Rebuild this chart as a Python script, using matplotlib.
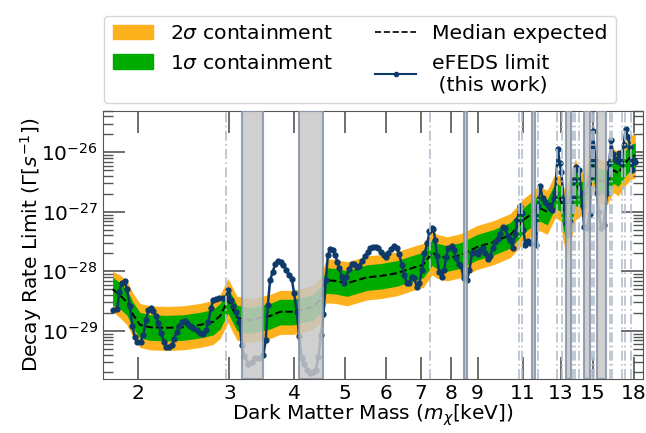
import numpy as np
import matplotlib.pyplot as plt
from matplotlib.patches import Patch
from matplotlib.lines import Line2D
from matplotlib.ticker import NullLocator

# eFEDS limit (mass in keV, log10 of decay rate limit)
m_lim = [1.795, 1.827, 1.843, 1.863, 1.891, 1.905, 1.933, 1.953, 1.976, 1.998,
         2.027, 2.050, 2.075, 2.096, 2.121, 2.143, 2.169, 2.191, 2.217, 2.247,
         2.267, 2.297, 2.325, 2.349, 2.377, 2.405, 2.437, 2.466, 2.491, 2.521,
         2.558, 2.597, 2.635, 2.667, 2.706, 2.734, 2.767, 2.795, 2.829, 2.871,
         2.914, 2.957, 2.987, 3.019, 3.054, 3.091, 3.137, 3.170, 3.203, 3.264,
         3.314, 3.362, 3.427, 3.488, 3.525, 3.557, 3.593, 3.636, 3.674, 3.718,
         3.768, 3.811, 3.857, 3.909, 3.956, 3.996, 4.044, 4.086, 4.135, 4.177,
         4.228, 4.290, 4.353, 4.399, 4.450, 4.498, 4.550, 4.599, 4.640, 4.687,
         4.743, 4.792, 4.841, 4.884, 4.936, 4.987, 5.031, 5.099, 5.160, 5.213,
         5.275, 5.336, 5.393, 5.473, 5.539, 5.595, 5.662, 5.738, 5.805, 5.875,
         5.953, 6.006, 6.068, 6.141, 6.223, 6.298, 6.362, 6.439, 6.505, 6.583,
         6.659, 6.730, 6.799, 6.881, 6.960, 7.034, 7.116, 7.211, 7.275, 7.353,
         7.405, 7.461, 7.518, 7.595, 7.686, 7.764, 7.834, 7.914, 8.034, 8.117,
         8.189, 8.273, 8.372, 8.458, 8.586, 8.685, 8.779, 8.908, 9.015, 9.107,
         9.217, 9.311, 9.407, 9.519, 9.617, 9.733, 9.849, 9.950, 10.07, 10.17,
         10.30, 10.40, 10.51, 10.63, 10.74, 10.84, 10.95, 11.03, 11.12, 11.25,
         11.36, 11.67, 11.74, 11.88, 12.00, 12.14, 12.27, 12.38, 12.51, 12.60,
         12.69, 12.85, 12.94, 13.04, 13.17, 13.33, 13.43, 13.57, 13.71, 13.81,
         13.93, 14.12, 14.22, 14.33, 14.43, 14.61, 14.78, 14.87, 15.00, 15.16,
         15.27, 15.38, 15.56, 15.72, 15.96, 16.13, 16.25, 16.39, 16.56, 16.69,
         16.86, 17.01, 17.18, 17.33, 17.52, 17.70, 17.83, 17.96, 18.09]
log_lim = [-28.65, -28.64, -28.34, -28.20, -28.16, -28.29, -28.59, -28.92, -29.11, -29.19,
           -29.18, -29.07, -28.82, -28.65, -28.62, -28.66, -28.75, -28.87, -29.04, -29.18,
           -29.28, -29.28, -29.24, -29.13, -29.02, -28.92, -28.86, -28.83, -28.87, -28.92,
           -28.95, -28.99, -29.04, -29.05, -28.99, -28.85, -28.61, -28.49, -28.47, -28.45,
           -28.45, -28.44, -28.31, -28.48, -28.58, -28.68, -28.85, -29.24, -29.42, -29.55,
           -29.52, -29.46, -29.45, -29.41, -29.15, -28.57, -28.15, -28.01, -27.88, -27.82,
           -27.84, -27.89, -27.97, -28.06, -28.13, -28.37, -28.68, -29.09, -29.46, -29.55,
           -29.66, -29.71, -29.70, -29.66, -29.44, -29.07, -28.71, -28.15, -27.73, -27.63,
           -27.64, -27.73, -27.84, -27.95, -28.09, -28.20, -28.09, -27.96, -27.87, -27.87,
           -27.92, -27.91, -27.82, -27.75, -27.67, -27.61, -27.59, -27.59, -27.61, -27.67,
           -27.73, -27.76, -27.70, -27.62, -27.57, -27.61, -27.71, -27.89, -28.06, -28.20,
           -28.19, -28.09, -28.12, -28.26, -28.20, -27.98, -27.70, -27.52, -27.33, -27.28,
           -27.29, -27.47, -27.75, -28.01, -28.10, -27.98, -27.76, -27.60, -27.57, -27.64,
           -27.78, -27.88, -27.91, -28.12, -28.15, -27.98, -27.70, -27.67, -27.71, -27.64,
           -27.60, -27.70, -27.80, -27.75, -27.61, -27.50, -27.45, -27.37, -27.25, -27.28,
           -27.41, -27.47, -27.60, -27.37, -27.14, -26.91, -27.02, -27.31, -27.56, -27.49,
           -27.53, -27.56, -26.91, -26.57, -26.77, -26.83, -26.89, -26.94, -26.97, -26.77,
           -26.69, -25.95, -26.18, -26.33, -26.80, -27.19, -27.37, -27.17, -26.75, -26.47,
           -26.24, -26.29, -26.69, -26.91, -27.25, -27.28, -27.03, -26.41, -25.64, -26.13,
           -26.69, -27.00, -27.28, -27.22, -26.69, -26.18, -25.80, -26.02, -26.12, -26.14,
           -26.01, -26.18, -25.88, -25.61, -25.74, -25.91, -26.29, -26.13, -26.16]

# expected sensitivity: median and containment bands (log10)
m_exp = [1.79, 1.849, 1.907, 1.959, 2.02, 2.112, 2.277, 2.444, 2.635, 2.792,
         2.88, 2.983, 3.05, 3.105, 3.289, 3.593, 3.756, 3.979, 4.347, 4.484,
         4.605, 4.792, 5.053, 5.282, 5.521, 5.849, 6.306, 6.769, 7.076, 7.364,
         7.528, 7.869, 8.336, 8.988, 9.647, 10.40, 10.73, 11.02, 11.47, 11.72,
         11.88, 12.25, 12.69, 12.98, 13.15, 13.39, 13.87, 14.18, 14.50, 14.96,
         15.29, 15.98, 16.42, 16.78, 17.31, 17.70, 18.09]
med = [-28.30, -28.40, -28.52, -28.73, -28.90, -28.94, -28.95, -28.94, -28.90, -28.85,
       -28.75, -28.48, -28.65, -28.78, -28.82, -28.75, -28.68, -28.68, -28.60, -28.48,
       -28.15, -28.16, -28.20, -28.15, -28.10, -28.08, -28.03, -27.94, -27.89, -27.68,
       -27.74, -27.78, -27.73, -27.59, -27.51, -27.39, -27.26, -27.14, -27.02, -26.95,
       -26.94, -27.00, -26.72, -26.77, -26.97, -26.89, -26.47, -26.69, -26.72, -26.21,
       -26.47, -26.50, -26.30, -26.35, -26.18, -26.08, -26.05]
up1 = [-28.10, -28.19, -28.31, -28.52, -28.69, -28.73, -28.74, -28.73, -28.69, -28.64,
       -28.54, -28.27, -28.44, -28.57, -28.61, -28.54, -28.47, -28.47, -28.39, -28.27,
       -27.94, -27.95, -27.99, -27.94, -27.89, -27.87, -27.82, -27.73, -27.68, -27.47,
       -27.53, -27.57, -27.52, -27.38, -27.30, -27.18, -27.05, -26.93, -26.81, -26.74,
       -26.73, -26.79, -26.51, -26.56, -26.76, -26.68, -26.26, -26.48, -26.51, -26.00,
       -26.26, -26.29, -26.09, -26.14, -25.97, -25.87, -25.84]
lo1 = [-28.57, -28.63, -28.74, -28.95, -29.12, -29.16, -29.17, -29.16, -29.12, -29.07,
       -28.97, -28.70, -28.87, -29.00, -29.04, -28.97, -28.90, -28.90, -28.82, -28.70,
       -28.37, -28.38, -28.42, -28.37, -28.32, -28.30, -28.25, -28.16, -28.11, -27.90,
       -27.96, -28.00, -27.95, -27.81, -27.73, -27.61, -27.48, -27.36, -27.24, -27.17,
       -27.16, -27.22, -26.94, -26.99, -27.30, -27.52, -26.90, -26.91, -26.94, -26.43,
       -26.69, -26.72, -26.52, -26.57, -26.40, -26.30, -26.27]
up2 = [-28.00, -28.06, -28.16, -28.37, -28.54, -28.58, -28.59, -28.58, -28.54, -28.49,
       -28.39, -28.12, -28.29, -28.42, -28.46, -28.39, -28.32, -28.32, -28.24, -28.12,
       -27.79, -27.80, -27.84, -27.79, -27.74, -27.72, -27.67, -27.58, -27.53, -27.32,
       -27.38, -27.42, -27.37, -27.23, -27.15, -27.03, -26.90, -26.78, -26.66, -26.59,
       -26.58, -26.64, -26.36, -26.41, -26.61, -26.53, -26.11, -26.33, -26.36, -25.85,
       -26.11, -26.14, -25.94, -25.99, -25.82, -25.72, -25.69]
lo2 = [-28.68, -28.78, -28.90, -29.11, -29.28, -29.32, -29.33, -29.32, -29.28, -29.23,
       -29.13, -28.86, -29.03, -29.16, -29.20, -29.13, -29.06, -29.06, -28.98, -28.86,
       -28.53, -28.54, -28.58, -28.53, -28.48, -28.46, -28.41, -28.32, -28.27, -28.06,
       -28.12, -28.16, -28.11, -27.97, -27.89, -27.77, -27.64, -27.52, -27.40, -27.33,
       -27.32, -27.38, -27.10, -27.15, -27.50, -27.76, -27.14, -27.07, -27.10, -26.59,
       -26.85, -26.88, -26.68, -26.73, -26.56, -26.46, -26.43]

# masked mass ranges and line positions (keV)
masked = [(3.174, 3.488), (4.091, 4.550), (8.458, 8.586), (11.45, 11.62),
          (13.29, 13.63), (14.43, 14.78), (15.29, 15.86)]
lines = [2.950, 7.282, 10.80, 10.95, 11.75, 12.79, 13.08, 13.75, 13.87, 14.08,
         14.94, 15.09, 16.15, 16.34, 17.06, 17.31, 17.78]

xticks = [2, 3, 4, 5, 6, 7, 8, 9, 11, 13, 15, 18]
yticks = [1e-29, 1e-28, 1e-27, 1e-26]

orange = '#fdb11c'
green = '#00ab00'
navy = '#0d3a68'

fig = plt.figure(figsize=(6.46, 4.33), dpi=100)
ax = fig.add_axes([0.159, 0.1247, 0.836, 0.6196])

ax.fill_between(m_exp, 10**np.array(lo2), 10**np.array(up2), color=orange, lw=0, zorder=1)
ax.fill_between(m_exp, 10**np.array(lo1), 10**np.array(up1), color=green, lw=0, zorder=2)
ax.plot(m_exp, 10**np.array(med), '--', color='k', lw=1.4, zorder=3)
ax.plot(m_lim, 10**np.array(log_lim), '-o', color=navy, lw=1.8, ms=3.5, zorder=4)

for m in lines:
    ax.axvline(m, color='#b4bfcc', ls=(0, (6, 2, 1, 2)), lw=1.2, zorder=5)
for a, b in masked:
    ax.axvspan(a, b, facecolor='#c8c8c8', alpha=0.85, edgecolor='#8593a6', lw=1.5, zorder=6)

ax.set_xscale('log')
ax.set_yscale('log')
ax.set_xlim(1.713, 18.7)
ax.set_ylim(1.55e-30, 5e-26)
ax.set_xticks(xticks)
ax.set_xticklabels([str(t) for t in xticks])
ax.xaxis.set_minor_locator(NullLocator())
ax.set_yticks(yticks)
ax.tick_params(which='both', direction='in', top=True, right=True,
               labelsize=14.5, color='#555555')
ax.tick_params(which='major', length=16, width=1.2)
ax.tick_params(which='minor', length=7, width=1)
for s in ax.spines.values():
    s.set_color('#555555')

ax.set_xlabel('Dark Matter Mass ($m_\\chi$[keV])', fontsize=14.5, labelpad=0)
ax.set_ylabel('Decay Rate Limit ($\\Gamma[s^{-1}]$)', fontsize=14.5, labelpad=-2)

handles = [Patch(color=orange), Patch(color=green),
           Line2D([], [], color='k', ls='--', lw=1.2),
           Line2D([], [], color=navy, marker='o', ms=3, lw=1.5)]
labels = ['2$\\sigma$ containment', '1$\\sigma$ containment',
          'Median expected', 'eFEDS limit\n (this work)']
ax.legend(handles, labels, loc='lower left', bbox_to_anchor=(0.003, 1.03),
          ncol=2, fontsize=14.7, borderaxespad=0, numpoints=1, columnspacing=2.1)

fig.savefig('out.png', dpi=100)
